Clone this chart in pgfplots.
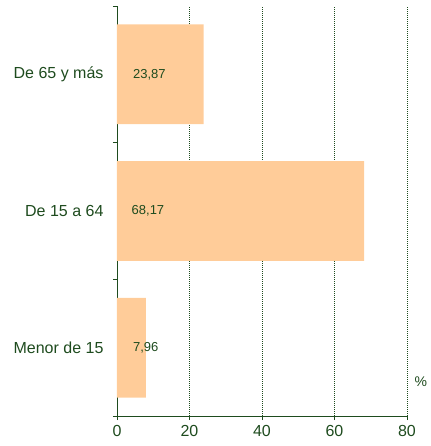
\documentclass[border=0pt]{standalone}
\usepackage{pgfplots}
\usepackage{pgfplotstable}
\pgfplotsset{compat=1.18}
\usepackage{fontspec}
\setmainfont{Liberation Sans}
\definecolor{dg}{RGB}{30,75,30}
\definecolor{peach}{RGB}{255,204,153}
\pgfplotstableread{
y x
0 7.96
1 68.17
2 23.87
}\bars
\pgfplotstableread{
y x label
0 4.4 7,96
1 4.0 68,17
2 4.4 23,87
}\labels
\begin{document}
\begin{tikzpicture}
\path[use as bounding box] (-117pt,-30pt) rectangle (313pt,416pt);
\begin{axis}[
  at={(0pt,0pt)}, anchor=south west,
  scale only axis, width=290pt, height=410pt,
  xmin=0, xmax=80, ymin=-0.5, ymax=2.5,
  clip=false,
  axis x line*=bottom, axis y line*=left,
  axis line style={dg, line width=0.8pt},
  tick style={dg, line width=0.8pt},
  tick align=outside, major tick length=4pt,
  xtick={0,20,40,60,80},
  xmajorgrids,
  grid style={dg, dash pattern=on 1pt off 1pt, line width=0.9pt},
  /pgf/number format/assume math mode=true,
  xticklabel style={font=\fontsize{16}{16}\selectfont, text=dg, yshift=-1.5pt},
  ytick={-0.5,0.5,1.5,2.5}, yticklabels={},
  extra y ticks={0,1,2},
  extra y tick labels={Menor de 15, De 15 a 64, De 65 y más},
  extra y tick style={major tick length=0pt,
    yticklabel style={font=\fontsize{16}{16}\selectfont, text=dg, xshift=-10pt}},
  xlabel={\%},
  xlabel style={at={(rel axis cs:1.048,0.083)}, anchor=center,
    font=\fontsize{14}{14}\selectfont, text=dg},
]
\addplot[xbar, bar width=0.73, fill=peach, draw=none] table[x=x, y=y] {\bars};
\addplot[draw=none, mark=none, nodes near coords, point meta=explicit symbolic,
  nodes near coords style={anchor=west, inner sep=0pt,
    font=\fontsize{13}{13}\selectfont, text=dg}]
  table[x=x, y=y, meta=label] {\labels};
\end{axis}
\end{tikzpicture}
\end{document}
